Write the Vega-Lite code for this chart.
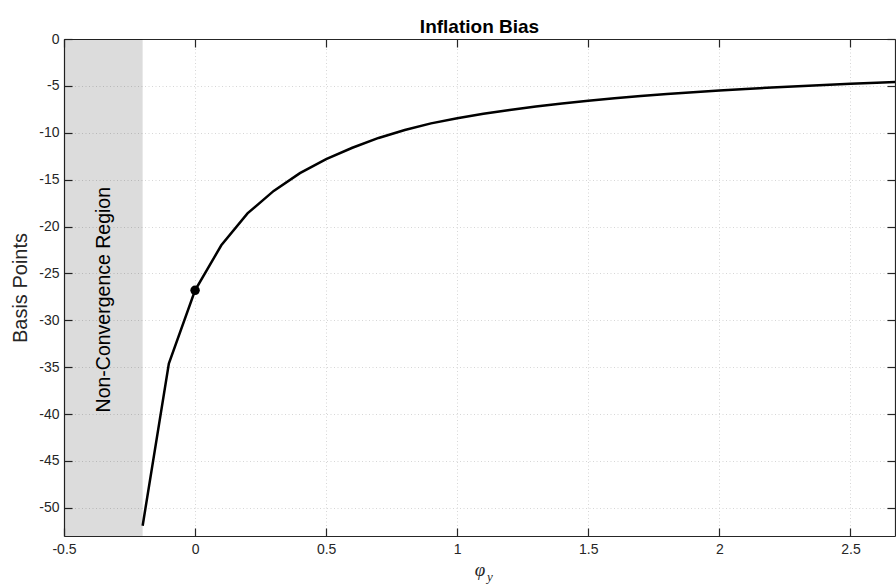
{
  "$schema": "https://vega.github.io/schema/vega-lite/v6.json",
  "width": 831,
  "height": 497,
  "autosize": {"type": "none"},
  "padding": {"left": 64, "top": 39, "right": 1, "bottom": 51},
  "background": "white",
  "title": {
    "text": "Inflation Bias",
    "font": "Liberation Sans",
    "fontSize": 19,
    "fontWeight": "bold",
    "color": "#000000",
    "anchor": "middle",
    "offset": -5
  },
  "config": {
    "view": {"stroke": null},
    "axis": {
      "domainColor": "#262626",
      "domainWidth": 1.2,
      "tickColor": "#262626",
      "tickWidth": 1.2,
      "tickSize": -8,
      "labelColor": "#262626",
      "labelFont": "Liberation Sans",
      "labelFontSize": 14,
      "labelFlush": false,
      "labelExpr": "replace(format(datum.value, '~g'), '\u2212', '-')",
      "titleFont": "Liberation Sans",
      "titleColor": "#262626",
      "titleFontWeight": "normal",
      "gridColor": "#d6d6d6",
      "gridDash": [1, 2.5],
      "gridWidth": 1
    }
  },
  "datasets": {
    "bias": [
      {"phi": -0.2, "bp": -51.9},
      {"phi": -0.1, "bp": -34.6},
      {"phi": 0.0, "bp": -26.8},
      {"phi": 0.1, "bp": -22.0},
      {"phi": 0.2, "bp": -18.6},
      {"phi": 0.3, "bp": -16.2},
      {"phi": 0.4, "bp": -14.3},
      {"phi": 0.5, "bp": -12.8},
      {"phi": 0.6, "bp": -11.6},
      {"phi": 0.7, "bp": -10.55},
      {"phi": 0.8, "bp": -9.7},
      {"phi": 0.9, "bp": -9.0},
      {"phi": 1.0, "bp": -8.45},
      {"phi": 1.1, "bp": -7.98},
      {"phi": 1.2, "bp": -7.56},
      {"phi": 1.3, "bp": -7.19},
      {"phi": 1.4, "bp": -6.87},
      {"phi": 1.5, "bp": -6.58},
      {"phi": 1.6, "bp": -6.32},
      {"phi": 1.7, "bp": -6.08},
      {"phi": 1.8, "bp": -5.87},
      {"phi": 1.9, "bp": -5.67},
      {"phi": 2.0, "bp": -5.49},
      {"phi": 2.1, "bp": -5.32},
      {"phi": 2.2, "bp": -5.17},
      {"phi": 2.3, "bp": -5.03},
      {"phi": 2.4, "bp": -4.9},
      {"phi": 2.5, "bp": -4.77},
      {"phi": 2.6, "bp": -4.66},
      {"phi": 2.7, "bp": -4.55}
    ],
    "baseline": [{"phi": 0.0, "bp": -26.8}],
    "region": [{"from": -0.5, "to": -0.2, "label": "Non-Convergence Region", "lx": -0.347, "ly": -27.8}],
    "subscript": [{"phi": 1.125, "bp": -53, "label": "y"}]
  },
  "resolve": {"axis": {"x": "independent", "y": "independent"}},
  "layer": [
    {
      "data": {"name": "region"},
      "mark": {"type": "rect", "fill": "#000000", "fillOpacity": 0.137},
      "encoding": {
        "x": {
          "field": "from",
          "type": "quantitative",
          "scale": {"domain": [-0.5, 2.67], "nice": false, "zero": false},
          "axis": {
            "orient": "bottom",
            "values": [-0.5, 0, 0.5, 1, 1.5, 2, 2.5],
            "grid": true,
            "labelPadding": 14,
            "title": "φ",
            "titleFont": "Liberation Serif",
            "titleFontStyle": "italic",
            "titleFontSize": 19,
            "titlePadding": 4
          }
        },
        "x2": {"field": "to"}
      }
    },
    {
      "data": {"name": "bias"},
      "mark": {"type": "line", "color": "#000000", "strokeWidth": 2.5, "clip": true},
      "encoding": {
        "x": {"field": "phi", "type": "quantitative", "axis": {"orient": "top", "values": [-0.5, 0, 0.5, 1, 1.5, 2, 2.5], "labels": false, "grid": false, "title": null}},
        "y": {
          "field": "bp",
          "type": "quantitative",
          "scale": {"domain": [-53, 0], "nice": false, "zero": false},
          "axis": {
            "orient": "left",
            "values": [-50, -45, -40, -35, -30, -25, -20, -15, -10, -5, 0],
            "grid": true,
            "labelPadding": 13,
            "title": "Basis Points",
            "titleFontSize": 20,
            "titlePadding": 8
          }
        }
      }
    },
    {
      "data": {"name": "baseline"},
      "mark": {"type": "point", "filled": true, "color": "#000000", "opacity": 1, "size": 90},
      "encoding": {
        "x": {"field": "phi", "type": "quantitative", "axis": null},
        "y": {"field": "bp", "type": "quantitative", "axis": {"orient": "right", "values": [-50, -45, -40, -35, -30, -25, -20, -15, -10, -5, 0], "labels": false, "grid": false, "title": null}}
      }
    },
    {
      "data": {"name": "region"},
      "mark": {"type": "text", "angle": 270, "align": "center", "baseline": "middle", "font": "Liberation Sans", "fontSize": 19.5, "color": "#000000"},
      "encoding": {
        "x": {"field": "lx", "type": "quantitative", "axis": null},
        "y": {"field": "ly", "type": "quantitative", "axis": null},
        "text": {"field": "label"}
      }
    },
    {
      "data": {"name": "subscript"},
      "mark": {"type": "text", "align": "center", "baseline": "alphabetic", "font": "Liberation Serif", "fontStyle": "italic", "fontSize": 13, "color": "#262626", "dy": 45},
      "encoding": {
        "x": {"field": "phi", "type": "quantitative", "axis": null},
        "y": {"field": "bp", "type": "quantitative", "axis": null},
        "text": {"field": "label"}
      }
    }
  ]
}
